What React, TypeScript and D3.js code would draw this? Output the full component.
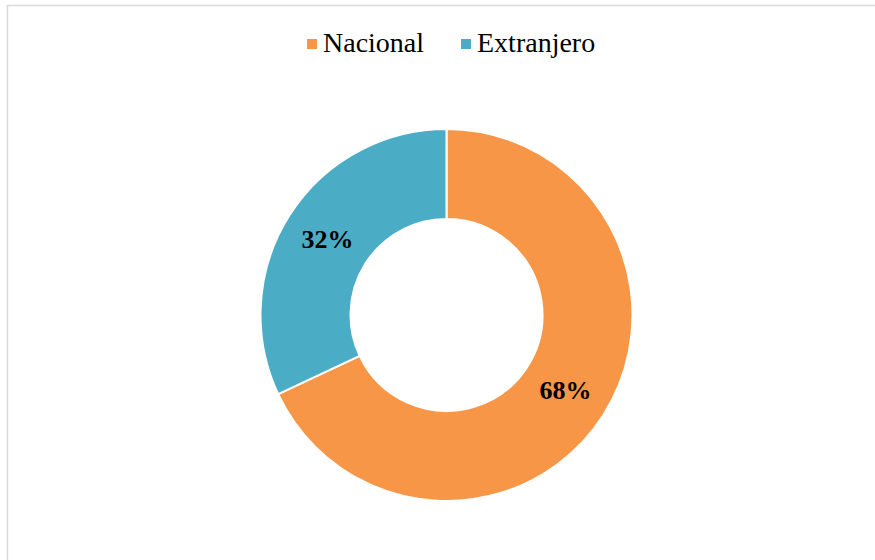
import React, { useEffect, useRef } from "react";
import * as d3 from "d3";

const categories = ["Nacional", "Extranjero"];
const values = [68, 32];
const colors = ["#F79646", "#4BACC6"];

const W = 875;
const H = 560;

const DonutChart = () => {
  const ref = useRef<SVGSVGElement>(null);

  useEffect(() => {
    const svg = d3.select(ref.current);
    svg.selectAll("*").remove();

    const font = "'Liberation Serif', 'Times New Roman', serif";

    // chart frame (only top and left edges fall inside the picture)
    svg
      .append("path")
      .attr("d", `M7.5,${H} V5.5 H${W}`)
      .attr("fill", "none")
      .attr("stroke", "#D9D9D9")
      .attr("stroke-width", 1.5);

    const cx = 446.5,
      cy = 315,
      outer = 186,
      inner = 96;

    const pie = d3
      .pie<number>()
      .sort(null)
      .value((d) => d);
    const arcs = pie(values);

    const arc = d3
      .arc<d3.PieArcDatum<number>>()
      .innerRadius(inner)
      .outerRadius(outer);

    const g = svg.append("g").attr("transform", `translate(${cx}, ${cy})`);

    g.selectAll("path.slice")
      .data(arcs)
      .enter()
      .append("path")
      .attr("class", "slice")
      .attr("d", arc)
      .attr("fill", (_, i) => colors[i])
      .attr("stroke", "#fff")
      .attr("stroke-width", 2)
      .attr("stroke-linejoin", "round");

    g.selectAll("text.pct")
      .data(arcs)
      .enter()
      .append("text")
      .attr("class", "pct")
      .attr("x", (d) => arc.centroid(d)[0])
      .attr("y", (d) => arc.centroid(d)[1])
      .attr("dy", "0.33em")
      .attr("text-anchor", "middle")
      .style("font-family", font)
      .style("font-weight", "bold")
      .style("font-size", "26px")
      .attr("fill", "#000")
      .text((d) => {
        const total = d3.sum(values);
        return `${Math.round((d.data / total) * 100)}%`;
      });

    // legend
    const legendX = [307, 461];
    const legend = svg
      .selectAll("g.legend")
      .data(categories)
      .enter()
      .append("g")
      .attr("class", "legend")
      .attr("transform", (_, i) => `translate(${legendX[i]}, 39)`);

    legend
      .append("rect")
      .attr("width", 10)
      .attr("height", 10)
      .attr("fill", (_, i) => colors[i]);

    legend
      .append("text")
      .attr("x", 16)
      .attr("y", 13)
      .style("font-family", font)
      .style("font-size", "28px")
      .attr("fill", "#000")
      .text((d) => d);
  }, []);

  return (
    <svg
      ref={ref}
      width={W}
      height={H}
      style={{ position: "absolute", left: 0, top: 0, background: "#fff" }}
    />
  );
};

export default function App() {
  return <DonutChart />;
}
